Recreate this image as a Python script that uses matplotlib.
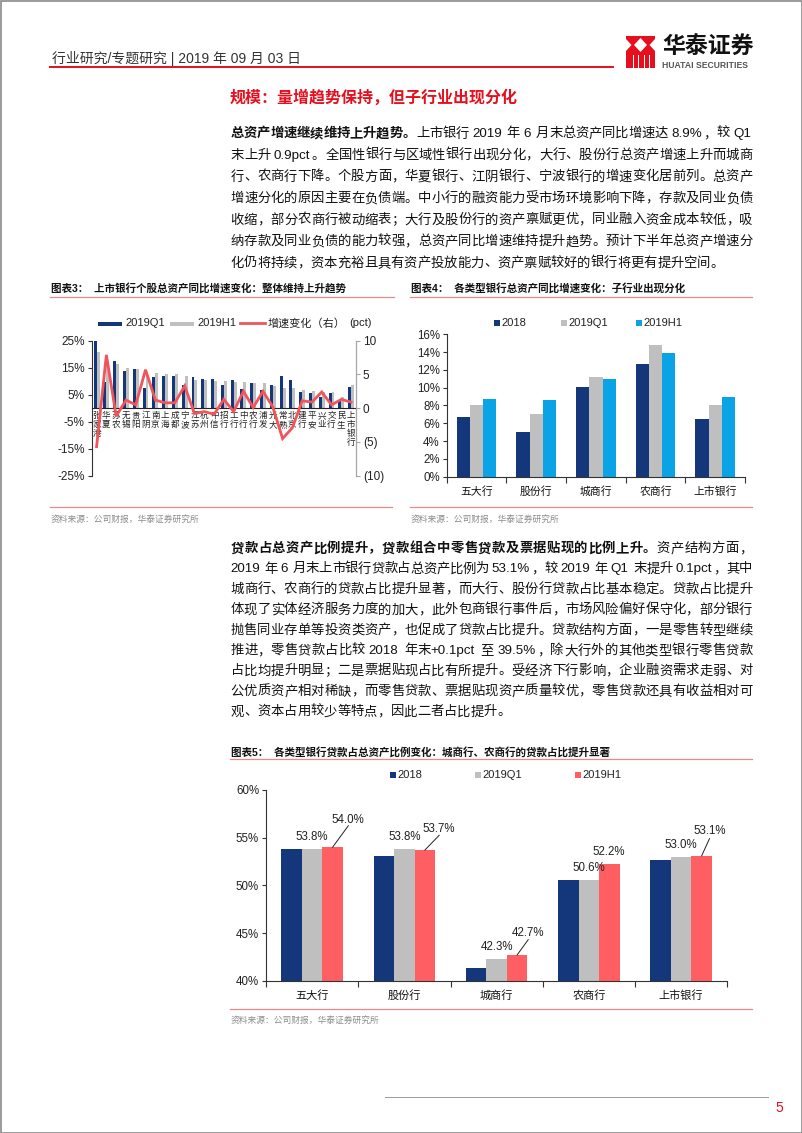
import re
import numpy as np
import matplotlib
matplotlib.use('Agg')
import matplotlib.pyplot as plt
from matplotlib.patches import Rectangle, Polygon
from matplotlib.lines import Line2D

# ---------------- data ----------------
cats3 = ['张家港', '华夏', '苏农', '无锡', '贵阳', '江阴', '南京', '上海', '成都', '宁波',
         '江苏', '杭州', '中信', '招行', '工行', '中行', '农行', '浦发', '光大', '常熟',
         '北京', '建行', '平安', '兴业', '交行', '民生', '上市银行']
q1_3 = [26.4, 9.7, 17.6, 13.6, 14.5, 7.4, 11.5, 12.1, 11.9, 8.7, 11.5, 10.8, 10.9, 8.7,
        10.3, 7.2, 9.3, 6.9, 8.5, 12.1, 10.3, 5.9, 5.6, 4.0, 5.5, 3.2, 7.8]
h1_3 = [20.7, 17.6, 16.4, 14.8, 14.6, 13.0, 12.9, 12.7, 12.7, 11.8, 10.5, 10.3, 10.0, 9.9,
        9.8, 9.7, 9.3, 9.2, 8.1, 7.6, 7.4, 6.9, 6.4, 6.1, 6.0, 4.2, 8.7]
chg_3 = [-5.7, 7.9, -1.2, 1.2, 0.5, 5.7, 1.2, 0.8, 0.8, 3.3, -0.8, -0.5, -0.9, 1.3,
         -0.5, 2.5, 0.1, 2.5, 0.2, -4.5, -2.9, 1.1, 0.9, 2.4, 0.5, 1.3, 0.9]
legend3 = ['2019Q1', '2019H1', '增速变化（右）']
yt3_left = [-25, -15, -5, 5, 15, 25]
yt3_right = [-10, -5, 0, 5, 10]
yl3_right = ['(10)', '(5)', '0', '5', '10']

cats4 = ['五大行', '股份行', '城商行', '农商行', '上市银行']
s4_2018 = [6.7, 5.0, 10.1, 12.7, 6.5]
s4_q1 = [8.05, 7.0, 11.15, 14.8, 8.0]
s4_h1 = [8.7, 8.65, 11.0, 13.9, 8.9]
series4 = ['2018', '2019Q1', '2019H1']

cats5 = ['五大行', '股份行', '城商行', '农商行', '上市银行']
s5_2018 = [53.8, 53.1, 41.3, 50.6, 52.7]
s5_q1 = [53.8, 53.8, 42.3, 50.6, 53.0]
s5_h1 = [54.0, 53.7, 42.7, 52.2, 53.1]
series5 = ['2018', '2019Q1', '2019H1']

NAVY = '#14367A'
GRAY = '#BFBFBF'
RED_LINE = '#F2545B'
BLUE = '#0AA3E6'
RED_BAR = '#FF5F63'
BRAND = '#E50F1E'
TITLE_LINE = '#E8888B'

W, H = 802, 1133
plt.rcParams['font.family'] = ['Liberation Sans', 'Noto Sans CJK SC', 'DejaVu Sans']
plt.rcParams['axes.unicode_minus'] = False

fig = plt.figure(figsize=(W / 100, H / 100), dpi=100)
renderer = fig.canvas.get_renderer()


def fx(x):
    return x / W


def fy(y):
    return 1 - y / H


def ftext(x, y, s, **kw):
    return fig.text(fx(x), fy(y), s, **kw)


def fline(x0, x1, y0, y1, **kw):
    fig.add_artist(Line2D([fx(x0), fx(x1)], [fy(y0), fy(y1)], transform=fig.transFigure, **kw))


def frect(x, y, w, h, **kw):
    fig.add_artist(Rectangle((fx(x), fy(y + h)), w / W, h / H, transform=fig.transFigure, **kw))


def is_cjk(c):
    return ord(c) > 0x2E80


def para_line(y, segs, x0=230, x1=752, justify=True, size=9.6):
    em = size * 100 / 72
    items = []
    for s, b in segs:
        for t in re.findall(r'[A-Za-z0-9.%+]+| |.', s):
            if t == ' ':
                items.append((None, em * 0.28, False))
                continue
            tx = fig.text(0, fy(y), t, fontsize=size, fontweight='bold' if b else 'normal',
                          va='center', ha='left', color='#111111')
            if len(t) == 1 and is_cjk(t):
                w = em
            else:
                w = tx.get_window_extent(renderer).width + 1
            items.append((tx, w, len(t) == 1 and is_cjk(t)))
    total = sum(w for _, w, _ in items)
    n = len(items)
    gap = (x1 - x0 - total) / (n - 1) if (justify and n > 1) else 0
    x = x0
    for tx, w, cj in items:
        if tx is not None:
            tx.set_x(fx(x + (0.04 * em if cj else 0)))
        x += w + gap


# ---------------- page frame / header ----------------
frect(0.5, 0.5, W - 1, H - 1, fill=False, edgecolor='#8a8a8a', lw=1.2)
ftext(52, 58, '行业研究/专题研究 | 2019 年 09 月 03 日', fontsize=10, color='#333333',
      va='center', ha='left')
fline(50, 613, 67, 67, color=BRAND, lw=1.4)

# logo
frect(626, 36, 29, 32, color=BRAND, lw=0)
for poly in [
    [(640.5, 38), (647, 45), (640.5, 52), (634, 45)],
    [(626, 39), (631.5, 45), (626, 51)],
    [(655, 39), (649.5, 45), (655, 51)],
]:
    fig.add_artist(Polygon([(fx(a), fy(b)) for a, b in poly], closed=True,
                           transform=fig.transFigure, color='white', lw=0))
for xs in [632.5, 637.5, 643.5, 648.5]:
    frect(xs, 55, 1.4, 13, color='white', lw=0)
ftext(662, 47, '华泰证券', fontsize=16.5, fontweight='bold', color='#111111',
      va='center', ha='left')
ftext(662, 65, 'HUATAI SECURITIES', fontsize=6.2, fontweight='bold', color='#555555',
      va='center', ha='left')

ftext(230, 98, '规模：量增趋势保持，但子行业出现分化', fontsize=11.5, fontweight='bold',
      color=BRAND, va='center', ha='left')

# ---------------- paragraph 1 ----------------
p1 = [
    [('总资产增速继续维持上升趋势。', True), ('上市银行 2019 年 6 月末总资产同比增速达 8.9%，较 Q1', False)],
    [('末上升 0.9pct。全国性银行与区域性银行出现分化，大行、股份行总资产增速上升而城商', False)],
    [('行、农商行下降。个股方面，华夏银行、江阴银行、宁波银行的增速变化居前列。总资产', False)],
    [('增速分化的原因主要在负债端。中小行的融资能力受市场环境影响下降，存款及同业负债', False)],
    [('收缩，部分农商行被动缩表；大行及股份行的资产禀赋更优，同业融入资金成本较低，吸', False)],
    [('纳存款及同业负债的能力较强，总资产同比增速维持提升趋势。预计下半年总资产增速分', False)],
    [('化仍将持续，资本充裕且具有资产投放能力、资产禀赋较好的银行将更有提升空间。', False)],
]
for i, segs in enumerate(p1):
    para_line(134 + i * 21.6, segs, justify=(i < len(p1) - 1))

p2 = [
    [('贷款占总资产比例提升，贷款组合中零售贷款及票据贴现的比例上升。', True), ('资产结构方面，', False)],
    [('2019 年 6 月末上市银行贷款占总资产比例为 53.1%，较 2019 年 Q1 末提升 0.1pct，其中', False)],
    [('城商行、农商行的贷款占比提升显著，而大行、股份行贷款占比基本稳定。贷款占比提升', False)],
    [('体现了实体经济服务力度的加大，此外包商银行事件后，市场风险偏好保守化，部分银行', False)],
    [('抛售同业存单等投资类资产，也促成了贷款占比提升。贷款结构方面，一是零售转型继续', False)],
    [('推进，零售贷款占比较 2018 年末+0.1pct 至 39.5%，除大行外的其他类型银行零售贷款', False)],
    [('占比均提升明显；二是票据贴现占比有所提升。受经济下行影响，企业融资需求走弱、对', False)],
    [('公优质资产相对稀缺，而零售贷款、票据贴现资产质量较优，零售贷款还具有收益相对可', False)],
    [('观、资本占用较少等特点，因此二者占比提升。', False)],
]
for i, segs in enumerate(p2):
    para_line(549 + i * 20.4, segs, justify=(i < len(p2) - 1))

# ---------------- chart titles / sources ----------------
ftext(51, 288, '图表3：  上市银行个股总资产同比增速变化：整体维持上升趋势', fontsize=7.6,
      fontweight='bold', va='center', ha='left', color='#111111')
fline(50, 394, 297, 297, color=TITLE_LINE, lw=0.9)
ftext(411, 288, '图表4：  各类型银行总资产同比增速变化：子行业出现分化', fontsize=7.6,
      fontweight='bold', va='center', ha='left', color='#111111')
fline(410, 752, 297, 297, color=TITLE_LINE, lw=0.9)
fline(50, 392, 507, 507, color=TITLE_LINE, lw=0.9)
fline(410, 752, 507, 507, color=TITLE_LINE, lw=0.9)
ftext(51, 519, '资料来源：公司财报，华泰证券研究所', fontsize=6.3, color='#8c8c8c', va='center', ha='left')
ftext(411, 519, '资料来源：公司财报，华泰证券研究所', fontsize=6.3, color='#8c8c8c', va='center', ha='left')

ftext(231, 752, '图表5：  各类型银行贷款占总资产比例变化：城商行、农商行的贷款占比提升显著', fontsize=7.6,
      fontweight='bold', va='center', ha='left', color='#111111')
fline(230, 752, 759, 759, color=TITLE_LINE, lw=0.9)
fline(230, 752, 1009, 1009, color=TITLE_LINE, lw=0.9)
ftext(231, 1020, '资料来源：公司财报，华泰证券研究所', fontsize=6.3, color='#8c8c8c', va='center', ha='left')

# footer
fline(385, 768, 1097, 1097, color='#9a9a9a', lw=0.7)
ftext(779, 1108, '5', fontsize=10, color=BRAND, va='center', ha='center')

# ---------------- chart 3 ----------------
L, R, T, B = 91.7, 356, 340.7, 475.7
ax3 = fig.add_axes([fx(L), fy(B), (R - L) / W, (B - T) / H])
x3 = np.arange(len(cats3))
bw = 0.3
ax3.bar(x3 - bw / 2, q1_3, width=bw, color=NAVY, zorder=2)
ax3.bar(x3 + bw / 2, h1_3, width=bw, color=GRAY, zorder=2)
ax3.set_xlim(-0.5, len(cats3) - 0.5)
ax3.set_ylim(-25, 25)
ax3.set_yticks(yt3_left)
ax3.set_yticklabels([f'{v}%' for v in yt3_left])
ax3.tick_params(axis='y', direction='out', length=3, width=0.8, labelsize=8.5, pad=2,
                color='#333333', labelcolor='#222222')
ax3.tick_params(axis='x', length=0, labelbottom=False)
for s in ['top', 'right']:
    ax3.spines[s].set_visible(False)
ax3.spines['left'].set_color('#333333')
ax3.spines['left'].set_linewidth(0.8)
ax3.spines['bottom'].set_position(('data', 0))
ax3.spines['bottom'].set_color('#222222')
ax3.spines['bottom'].set_linewidth(0.8)
ax3.spines['bottom'].set_zorder(3)
ax3.patch.set_alpha(0)
for i, name in enumerate(cats3):
    ax3.text(i, -1.0, '\n'.join(name), ha='center', va='top', fontsize=6.2,
             linespacing=1.0, color='#222222', family=['Noto Sans CJK SC'])

ax3r = ax3.twinx()
ax3r.plot(x3, chg_3, color=RED_LINE, lw=2.0, zorder=5, solid_joinstyle='miter')
ax3r.set_ylim(-10, 10)
ax3r.set_yticks(yt3_right)
ax3r.set_yticklabels(yl3_right)
ax3r.tick_params(axis='y', direction='out', length=3, width=0.8, labelsize=8.5, pad=2,
                 color='#A6A6A6', labelcolor='#222222')
for s in ['top', 'left', 'bottom']:
    ax3r.spines[s].set_visible(False)
ax3r.spines['right'].set_color('#A6A6A6')
ax3r.spines['right'].set_linewidth(0.9)

# legend chart 3
frect(98, 321.5, 24, 4.5, color=NAVY, lw=0)
ftext(125, 323, legend3[0], fontsize=8, va='center', ha='left', color='#222222')
frect(170, 321.5, 24, 4.5, color=GRAY, lw=0)
ftext(197, 323, legend3[1], fontsize=8, va='center', ha='left', color='#222222')
fline(240, 265, 323, 323, color=RED_LINE, lw=2)
ftext(268, 323, legend3[2], fontsize=8, va='center', ha='left', color='#222222')
ftext(372, 323, '(pct)', fontsize=8, va='center', ha='right', color='#222222')

# ---------------- chart 4 ----------------
L, R, T, B = 446.7, 745, 334.3, 476.7
ax4 = fig.add_axes([fx(L), fy(B), (R - L) / W, (B - T) / H])
x4 = np.arange(len(cats4))
bw = 0.223
for k, (vals, col) in enumerate(zip([s4_2018, s4_q1, s4_h1], [NAVY, GRAY, BLUE])):
    ax4.bar(x4 + (k - 1) * bw, vals, width=bw, color=col)
ax4.set_xlim(-0.5, len(cats4) - 0.5)
ax4.set_ylim(0, 16)
ax4.set_yticks(np.arange(0, 17, 2))
ax4.set_yticklabels([f'{v}%' for v in range(0, 17, 2)])
ax4.set_xticks(x4)
ax4.set_xticklabels(cats4, family=['Noto Sans CJK SC'])
ax4.set_xticks(np.arange(-0.5, len(cats4), 1), minor=True)
ax4.tick_params(axis='x', which='major', length=0, labelsize=7.8, pad=7, labelcolor='#111111')
ax4.tick_params(axis='x', which='minor', length=4, width=0.8, direction='out', color='#333333')
ax4.tick_params(axis='y', direction='out', length=3, width=0.8, labelsize=8.3, pad=2,
                color='#333333', labelcolor='#222222')
for s in ['top', 'right']:
    ax4.spines[s].set_visible(False)
for s in ['left', 'bottom']:
    ax4.spines[s].set_color('#333333')
    ax4.spines[s].set_linewidth(0.8)
ax4.patch.set_alpha(0)

for xm, col, lab in zip([494, 561, 636], [NAVY, GRAY, BLUE], series4):
    frect(xm, 320, 6, 6, color=col, lw=0)
    ftext(xm + 7, 323, lab, fontsize=8, va='center', ha='left', color='#222222')

# ---------------- chart 5 ----------------
L, R, T, B = 266, 727.3, 790, 980.7
ax5 = fig.add_axes([fx(L), fy(B), (R - L) / W, (B - T) / H])
x5 = np.arange(len(cats5))
bw = 0.222
for k, (vals, col) in enumerate(zip([s5_2018, s5_q1, s5_h1], [NAVY, GRAY, RED_BAR])):
    ax5.bar(x5 + (k - 1) * bw, vals, width=bw, color=col)
ax5.set_xlim(-0.5, len(cats5) - 0.5)
ax5.set_ylim(40, 60)
ax5.set_yticks(np.arange(40, 61, 5))
ax5.set_yticklabels([f'{v}%' for v in range(40, 61, 5)])
ax5.set_xticks(x5)
ax5.set_xticklabels(cats5, family=['Noto Sans CJK SC'])
ax5.set_xticks(np.arange(-0.5, len(cats5), 1), minor=True)
ax5.tick_params(axis='x', which='major', length=0, labelsize=8, pad=7, labelcolor='#111111')
ax5.tick_params(axis='x', which='minor', length=4, width=0.8, direction='out', color='#333333')
ax5.tick_params(axis='y', direction='out', length=3, width=0.8, labelsize=8.3, pad=2,
                color='#333333', labelcolor='#222222')
for s in ['top', 'right']:
    ax5.spines[s].set_visible(False)
for s in ['left', 'bottom']:
    ax5.spines[s].set_color('#333333')
    ax5.spines[s].set_linewidth(0.8)
ax5.patch.set_alpha(0)

# value labels
for i in range(len(cats5)):
    ax5.text(i, s5_q1[i] + 1.25, f'{s5_q1[i]:.1f}%', ha='center', va='center', fontsize=8.3,
             color='#222222')
# H1 labels with leaders (offset dx, dy_line, dy_text)
lead = [(0.17, 2.25, 2.9), (0.155, 1.55, 2.2), (0.12, 1.6, 2.3), None, (0.085, 1.8, 2.6)]
for i in range(len(cats5)):
    xb = i + bw
    v = s5_h1[i]
    if lead[i] is None:
        ax5.text(xb - 0.01, v + 1.3, f'{v:.1f}%', ha='center', va='center', fontsize=8.3,
                 color='#222222')
    else:
        dx, dl, dt = lead[i]
        ax5.plot([xb, xb + dx], [v, v + dl], color='#222222', lw=0.7, clip_on=False)
        ax5.text(xb + dx, v + dt, f'{v:.1f}%', ha='center', va='center', fontsize=8.3,
                 color='#222222')

for xm, col, lab in zip([390, 475, 575], [NAVY, GRAY, RED_BAR], series5):
    frect(xm, 772, 6, 6, color=col, lw=0)
    ftext(xm + 7, 775, lab, fontsize=8, va='center', ha='left', color='#222222')

fig.savefig('out.png', dpi=100)
